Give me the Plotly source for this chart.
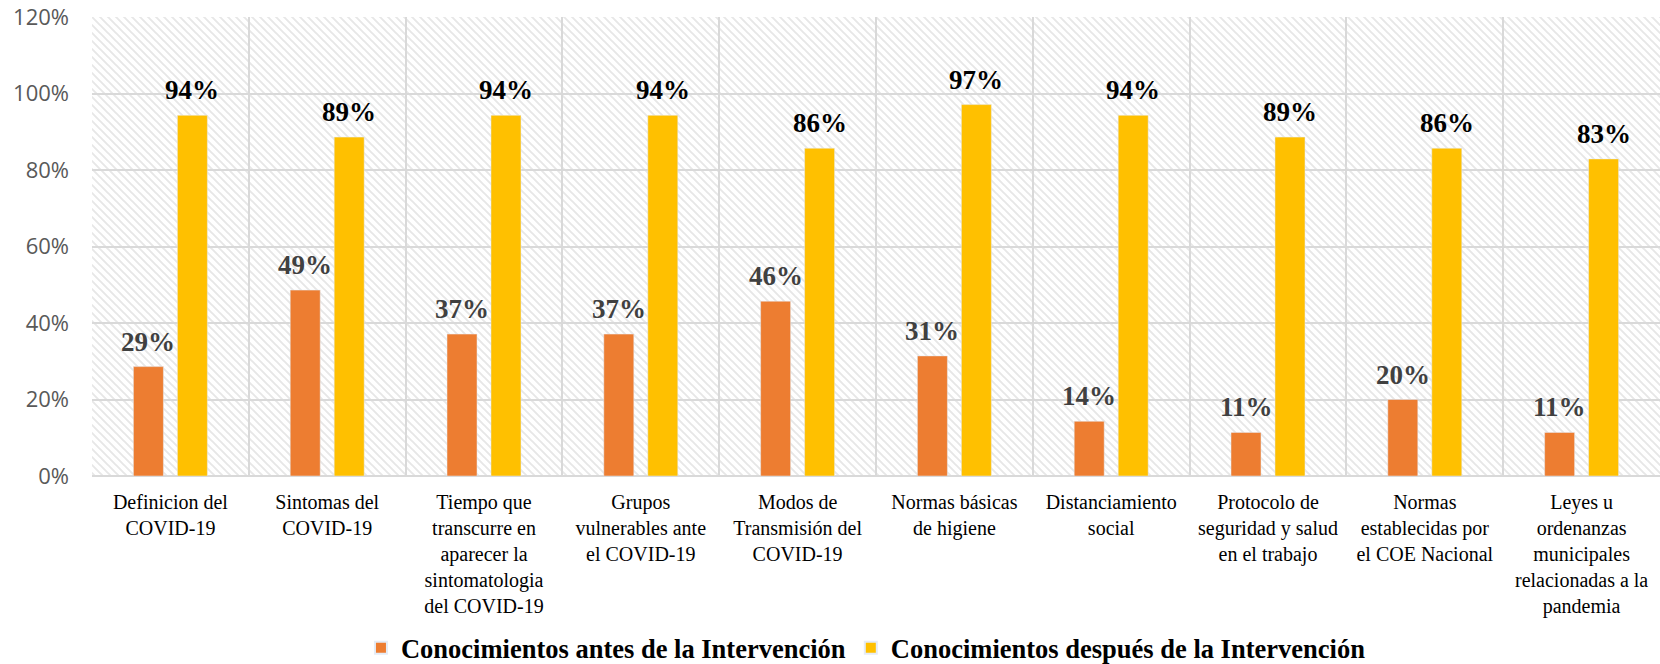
import base64
import plotly.graph_objects as go

categories = [
    "Definicion del<br>COVID-19",
    "Sintomas del<br>COVID-19",
    "Tiempo que<br>transcurre en<br>aparecer la<br>sintomatologia<br>del COVID-19",
    "Grupos<br>vulnerables ante<br>el COVID-19",
    "Modos de<br>Transmisión del<br>COVID-19",
    "Normas básicas<br>de higiene",
    "Distanciamiento<br>social",
    "Protocolo de<br>seguridad y salud<br>en el trabajo",
    "Normas<br>establecidas por<br>el COE Nacional",
    "Leyes u<br>ordenanzas<br>municipales<br>relacionadas a la<br>pandemia",
]
antes = [0.286, 0.486, 0.371, 0.371, 0.457, 0.314, 0.143, 0.114, 0.200, 0.114]
despues = [0.943, 0.886, 0.943, 0.943, 0.857, 0.971, 0.943, 0.886, 0.857, 0.829]
series_names = ["Conocimientos antes de la Intervención", "Conocimientos después de la Intervención"]
series_colors = ["#ED7D31", "#FFC000"]
label_colors = ["#404040", "#000000"]

W, H = 1660, 664
ML, MR, MT, MB = 92, 0, 17, 188
PW, PH = W - ML - MR, H - MT - MB
BAR_SHIFT = 22  # px offset of each bar from its category centre

# hatched plot-area background
svg = f'''<svg xmlns="http://www.w3.org/2000/svg" width="{PW}" height="{PH}">
<defs><pattern id="p" patternUnits="userSpaceOnUse" width="8" height="8">
<path d="M-2,-2 L10,10 M-2,6 L2,10 M6,-2 L10,2" stroke="#e7e7e7" stroke-width="1.9"/>
</pattern></defs>
<rect width="{PW}" height="{PH}" fill="white"/>
<rect width="{PW}" height="{PH}" fill="url(#p)"/>
</svg>'''
src = "data:image/svg+xml;base64," + base64.b64encode(svg.encode()).decode()

fig = go.Figure()
annotations = []
for i, vals in enumerate([antes, despues]):
    fig.add_trace(go.Bar(
        x=categories, y=vals, name="<b>" + series_names[i] + "</b>",
        marker_color=series_colors[i], hoverinfo="x+y",
    ))
    for c, v in zip(categories, vals):
        annotations.append(dict(
            x=c, y=v, xref="x", yref="y", text=f"<b>{v:.0%}</b>", showarrow=False,
            xanchor="center", yanchor="bottom", xshift=(-1 if i == 0 else 1) * BAR_SHIFT, yshift=8,
            font=dict(family="Liberation Serif", size=27, color=label_colors[i]),
        ))

legend_center_px = 648
fig.update_layout(
    width=W, height=H,
    margin=dict(l=ML, r=MR, t=MT, b=MB, autoexpand=False),
    paper_bgcolor="white", plot_bgcolor="rgba(0,0,0,0)",
    barmode="group", bargap=0.439, bargroupgap=0.318,
    images=[dict(source=src, xref="paper", yref="paper", x=0, y=1, sizex=1, sizey=1,
                 xanchor="left", yanchor="top", sizing="stretch", layer="below")],
    annotations=annotations,
    legend=dict(orientation="h", xref="paper", x=0.4936, xanchor="center",
                yref="paper", y=(H - MB - legend_center_px) / PH, yanchor="middle",
                font=dict(family="Liberation Serif", size=26.5, color="#000000"),
                itemsizing="constant"),
    showlegend=True,
)
fig.update_xaxes(
    tickson="boundaries", showgrid=True, gridcolor="#d9d9d9", gridwidth=2,
    ticks="", tickfont=dict(family="Liberation Serif", size=20, color="#000000"),
    showline=False, tickangle=0, automargin=False, ticklabelstandoff=12,
)
fig.update_yaxes(
    range=[0, 1.2], dtick=0.2, tickformat=".0%",
    showgrid=True, gridcolor="#d9d9d9", gridwidth=2,
    zeroline=True, zerolinecolor="#d9d9d9", zerolinewidth=2,
    tickfont=dict(family="Open Sans", size=22, color="#595959"),
    ticklabelstandoff=22, automargin=False,
)

fig.write_html("out.html", config={"displayModeBar": False},
               post_script="document.body.style.margin='0';")
